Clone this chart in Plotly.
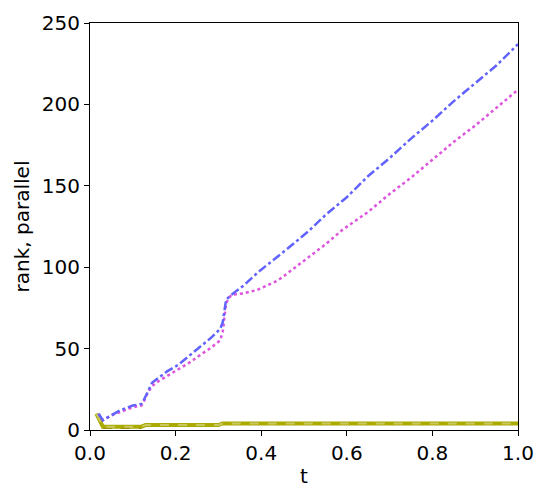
import plotly.graph_objects as go

t_blue = [0.02, 0.03, 0.05, 0.07, 0.10, 0.12, 0.125, 0.135, 0.145, 0.16, 0.18, 0.206, 0.23, 0.257, 0.28, 0.304, 0.31, 0.318, 0.33,
          0.36, 0.393, 0.455, 0.51, 0.55, 0.60, 0.65, 0.70, 0.75, 0.80, 0.85, 0.90, 0.95, 1.0]
v_blue = [10, 6, 9, 12, 15, 16, 18, 24, 29, 32, 36, 40, 45, 51, 56, 62, 66, 80, 83,
          89, 97, 110, 122, 132, 143, 156, 167, 179, 190, 202, 213, 224, 237]

t_mag = [0.02, 0.03, 0.05, 0.07, 0.10, 0.12, 0.125, 0.135, 0.145, 0.16, 0.18, 0.20, 0.23, 0.257, 0.28, 0.304, 0.31, 0.318, 0.33,
         0.36, 0.39, 0.44, 0.495, 0.55, 0.59, 0.65, 0.70, 0.75, 0.80, 0.85, 0.90, 0.95, 1.0]
v_mag = [10, 6, 9, 11, 14, 15, 17, 23, 27, 30, 33, 36, 41, 46, 50, 55, 60, 78, 83,
         84, 86, 92, 103, 114, 123, 134, 145, 155, 166, 177, 187, 198, 209]

t_olive = [0.015, 0.03, 0.12, 0.13, 0.30, 0.31, 1.0]
v_olive = [10, 2, 2, 3, 3, 4, 4]

t_red = [0.03, 0.12]
v_red = [1.5, 1.5]

fig = go.Figure()
fig.add_trace(go.Scatter(x=t_red, y=v_red, mode="lines",
                         line=dict(color="#8b3a1a", width=3, dash="dash")))
fig.add_trace(go.Scatter(x=t_olive, y=v_olive, mode="lines",
                         line=dict(color="#aaaa00", width=4)))
fig.add_trace(go.Scatter(x=t_olive, y=v_olive, mode="lines",
                         line=dict(color="#c8c860", width=2, dash="dash")))
fig.add_trace(go.Scatter(x=t_mag, y=v_mag, mode="lines",
                         line=dict(color="#dd55dd", width=2.5, dash="dot")))
fig.add_trace(go.Scatter(x=t_blue, y=v_blue, mode="lines",
                         line=dict(color="#6262ff", width=2.5, dash="dashdot")))

font = dict(family="DejaVu Sans", size=20, color="black")
axis_common = dict(showline=True, linecolor="black", linewidth=1, mirror=True,
                   ticks="outside", ticklen=5, tickcolor="black",
                   showgrid=False, zeroline=False, tickfont=font)
fig.update_xaxes(range=[0, 1], tickvals=[0, 0.2, 0.4, 0.6, 0.8, 1.0],
                 ticktext=["0.0", "0.2", "0.4", "0.6", "0.8", "1.0"],
                 title=dict(text="t", font=font, standoff=4),
                 **axis_common)
fig.update_yaxes(range=[0, 250], tickvals=[0, 50, 100, 150, 200, 250],
                 title=dict(text="rank, parallel", font=font, standoff=6),
                 **axis_common)
fig.update_layout(width=542, height=492, showlegend=False,
                  plot_bgcolor="white", paper_bgcolor="white",
                  margin=dict(l=82, r=32, t=15, b=70, autoexpand=False))
fig.write_html("out.html")
